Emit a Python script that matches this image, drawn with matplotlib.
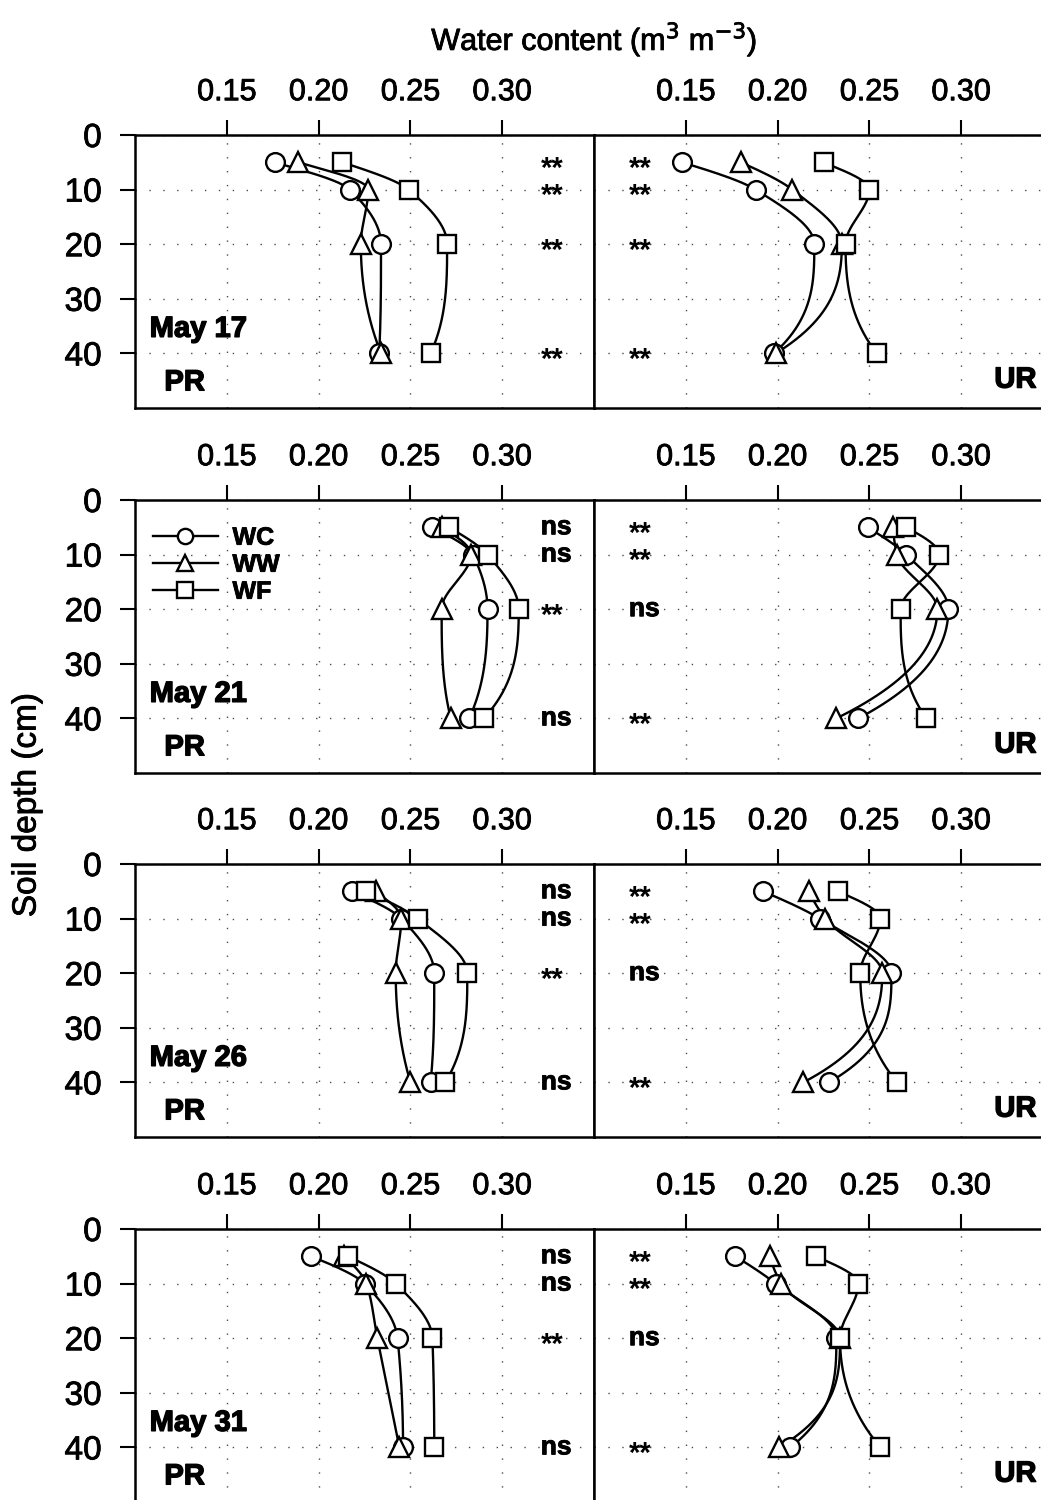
import numpy as np
import matplotlib
matplotlib.use("Agg")
import matplotlib.pyplot as plt
import matplotlib.patheffects as pe

plt.rcParams['font.family'] = ['Liberation Sans', 'DejaVu Sans']

# soil water content profiles, PR and UR sites, four sampling dates
depth = [5, 10, 20, 40]
dates = ['May 17', 'May 21', 'May 26', 'May 31']
treatments = ['WC', 'WW', 'WF']

pr_wc = [[0.176, 0.217, 0.234, 0.233],
         [0.262, 0.284, 0.292, 0.282],
         [0.218, 0.245, 0.263, 0.261],
         [0.196, 0.225, 0.243, 0.246]]
pr_ww = [[0.189, 0.227, 0.223, 0.234],
         [0.267, 0.283, 0.267, 0.272],
         [0.231, 0.245, 0.242, 0.250],
         [0.214, 0.226, 0.232, 0.244]]
pr_wf = [[0.213, 0.249, 0.270, 0.261],
         [0.271, 0.292, 0.309, 0.290],
         [0.226, 0.254, 0.281, 0.269],
         [0.216, 0.242, 0.262, 0.263]]

ur_wc = [[0.148, 0.188, 0.220, 0.198],
         [0.249, 0.270, 0.293, 0.244],
         [0.192, 0.223, 0.262, 0.228],
         [0.177, 0.199, 0.232, 0.207]]
ur_ww = [[0.180, 0.208, 0.235, 0.199],
         [0.263, 0.265, 0.287, 0.232],
         [0.217, 0.226, 0.257, 0.214],
         [0.196, 0.202, 0.234, 0.201]]
ur_wf = [[0.225, 0.250, 0.237, 0.254],
         [0.270, 0.288, 0.267, 0.281],
         [0.233, 0.256, 0.245, 0.265],
         [0.221, 0.244, 0.234, 0.256]]

pr_sig = [['**', '**', '**', '**'],
          ['ns', 'ns', '**', 'ns'],
          ['ns', 'ns', '**', 'ns'],
          ['ns', 'ns', '**', 'ns']]
ur_sig = [['**', '**', '**', '**'],
          ['**', '**', 'ns', '**'],
          ['**', '**', 'ns', '**'],
          ['**', '**', 'ns', '**']]

xticks = [0.15, 0.20, 0.25, 0.30]
yticks = [0, 10, 20, 30, 40]
markers = ['o', '^', 's']

thick = [pe.withStroke(linewidth=0.6, foreground='black')]
heavy = [pe.withStroke(linewidth=1.0, foreground='black')]


def pchip(xk, yk, n=150):
    # shape-preserving piecewise cubic through the knots
    xk = np.asarray(xk, float)
    yk = np.asarray(yk, float)
    h = np.diff(xk)
    delta = np.diff(yk) / h
    m = len(xk)
    d = np.zeros(m)
    for k in range(1, m - 1):
        if delta[k - 1] * delta[k] > 0:
            w1 = 2 * h[k] + h[k - 1]
            w2 = h[k] + 2 * h[k - 1]
            d[k] = (w1 + w2) / (w1 / delta[k - 1] + w2 / delta[k])

    def end_slope(h0, h1, d0, d1):
        s = ((2 * h0 + h1) * d0 - h0 * d1) / (h0 + h1)
        if np.sign(s) != np.sign(d0):
            s = 0.0
        elif np.sign(d0) != np.sign(d1) and abs(s) > abs(3 * d0):
            s = 3 * d0
        return s

    d[0] = end_slope(h[0], h[1], delta[0], delta[1])
    d[-1] = end_slope(h[-1], h[-2], delta[-1], delta[-2])

    xs = np.linspace(xk[0], xk[-1], n)
    idx = np.clip(np.searchsorted(xk, xs) - 1, 0, m - 2)
    t = (xs - xk[idx]) / h[idx]
    h00 = 2 * t**3 - 3 * t**2 + 1
    h10 = t**3 - 2 * t**2 + t
    h01 = -2 * t**3 + 3 * t**2
    h11 = t**3 - t**2
    ys = h00 * yk[idx] + h10 * h[idx] * d[idx] + h01 * yk[idx + 1] \
        + h11 * h[idx] * d[idx + 1]
    return xs, ys


fig = plt.figure(figsize=(10.41, 15), dpi=100)

W = 459 / 1041
H = 273 / 1500
left_x = 135 / 1041
right_x = 594 / 1041
tops = [135, 500, 864, 1229]


def style_axes(ax, show_y):
    ax.set_xlim(0.10, 0.35)
    ax.set_ylim(50, 0)
    ax.xaxis.tick_top()
    ax.set_xticks(xticks)
    ax.set_xticklabels(['%.2f' % v for v in xticks])
    ax.tick_params(axis='x', direction='out', length=11, width=1.5,
                   labelsize=22, pad=9)
    ax.set_yticks(yticks)
    if show_y:
        ax.tick_params(axis='y', direction='out', length=11, width=1.5,
                       labelsize=24, pad=13)
    else:
        ax.tick_params(axis='y', length=0, labelleft=False)
    for lab in ax.get_xticklabels() + ax.get_yticklabels():
        lab.set_path_effects(thick)
    for s in ax.spines.values():
        s.set_linewidth(1.8)
    ax.grid(True, linestyle=(0, (1, 9)), color='black', linewidth=1.0, alpha=0.7)
    ax.set_axisbelow(True)


for r in range(4):
    bottom = 1 - (tops[r] + 273) / 1500
    ax_pr = fig.add_axes([left_x, bottom, W, H])
    ax_ur = fig.add_axes([right_x, bottom, W, H])
    style_axes(ax_pr, True)
    style_axes(ax_ur, False)

    for ax, series, sig, sx in [(ax_pr, [pr_wc, pr_ww, pr_wf], pr_sig, 0.321),
                                (ax_ur, [ur_wc, ur_ww, ur_wf], ur_sig, 0.119)]:
        for k, data in enumerate(series):
            d_s, x_s = pchip(depth, data[r])
            ax.plot(x_s, d_s, color='black', linewidth=1.7, zorder=3)
            ax.plot(data[r], depth, linestyle='none', marker=markers[k],
                    markersize=13.5 if k != 1 else 14.5, markerfacecolor='white',
                    markeredgecolor='black', markeredgewidth=1.7, zorder=4,
                    label=treatments[k])
        for d, s in zip(depth, sig[r]):
            if s == '**':
                ax.text(sx, d + 1.2, s, fontsize=21, fontweight='bold',
                        ha='left', va='center', zorder=5)
            else:
                ax.text(sx, d, s, fontsize=19, fontweight='bold',
                        ha='left', va='center', zorder=5, path_effects=thick)

    ax_pr.text(0.108, 35.5, dates[r], fontsize=21, fontweight='bold',
               ha='left', va='center', path_effects=heavy)
    ax_pr.text(0.116, 45.3, 'PR', fontsize=21, fontweight='bold',
               ha='left', va='center', path_effects=heavy)
    ax_ur.text(0.341, 44.8, 'UR', fontsize=21, fontweight='bold',
               ha='right', va='center', path_effects=heavy)

    if r == 1:
        handles = [plt.Line2D([], [], color='black', linewidth=1.7,
                              marker=markers[k], markersize=11,
                              markerfacecolor='white', markeredgecolor='black',
                              markeredgewidth=1.7) for k in range(3)]
        leg = ax_pr.legend(handles, treatments, loc='upper left',
                           bbox_to_anchor=(0.0, 0.97), frameon=False,
                           prop={'size': 18, 'weight': 'bold'},
                           handlelength=2.6, handletextpad=0.6,
                           labelspacing=0.12, borderaxespad=0.3)
        for t in leg.get_texts():
            t.set_path_effects(thick)

fig.text(594 / 1041, 1 - 40 / 1500, r'Water content (m$^3$ m$^{-3}$)',
         fontsize=22, ha='center', va='center', path_effects=thick)
fig.text(27 / 1041, 1 - 805 / 1500, 'Soil depth (cm)', fontsize=24,
         rotation=90, ha='center', va='center', path_effects=thick)

fig.savefig('out.png', dpi=100)
